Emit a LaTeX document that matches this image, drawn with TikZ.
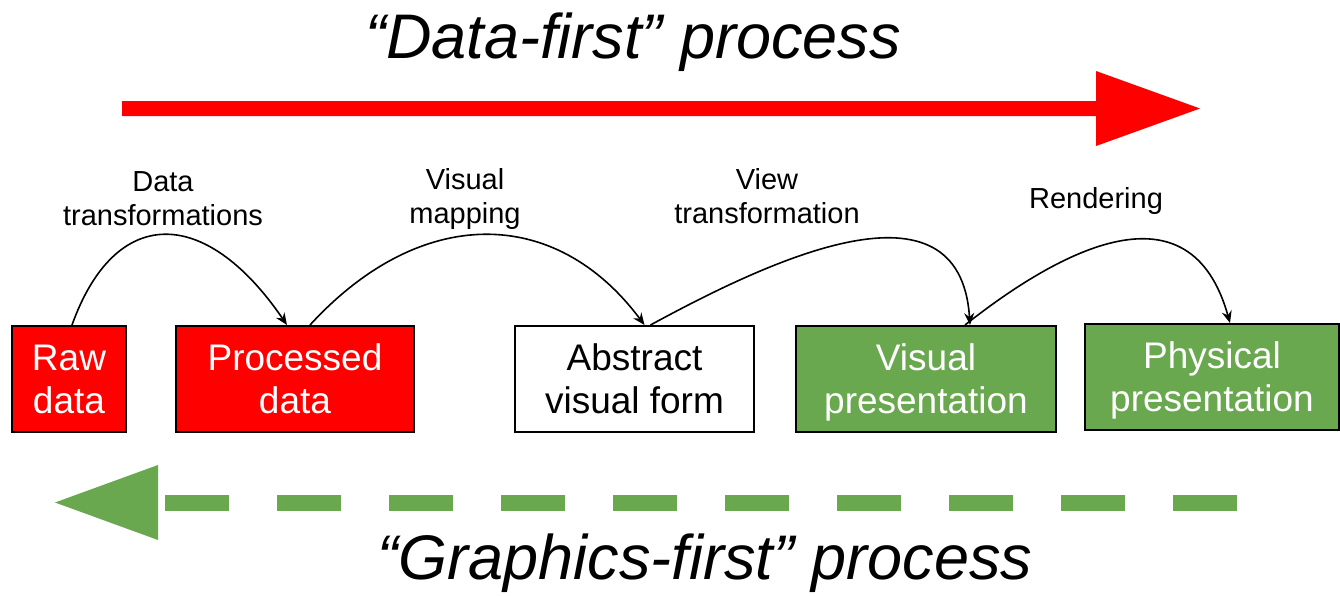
\documentclass[tikz,border=0pt]{standalone}
\usepackage{fontspec}
\setmainfont{Liberation Sans}
\usepackage{tikz}
\usetikzlibrary{arrows.meta}
\definecolor{boxred}{HTML}{FF0000}
\definecolor{boxgreen}{HTML}{6AA84F}

\begin{document}
\begin{tikzpicture}[x=0.5pt,y=-0.5pt,
    box/.style={draw,line width=1pt,minimum height=53pt,inner sep=0pt,align=center,
      font=\fontsize{18.5}{21.5}\selectfont},
    redbox/.style={box,fill=boxred,text=white},
    greenbox/.style={box,fill=boxgreen,text=white},
    lbl/.style={anchor=base,align=center,font=\fontsize{14.5}{17}\selectfont},
    heading/.style={anchor=base,font=\fontsize{31.5}{36}\selectfont\itshape},
    flow/.style={line width=0.8pt,-{Stealth[length=6pt,width=5pt,inset=2pt]}}]
                 \useasboundingbox (0,0) rectangle (1340,595);
                 % top: data-first
                 \node[heading] (datafirst) at (633,58) {“Data-first” process};
                 \fill[boxred] (122,101) -- (1096,101) -- (1096,71) -- (1200,108.5) -- (1096,146) -- (1096,116) -- (122,116) -- cycle;
                 % stages
                 \node[redbox,minimum width=57pt] (raw) at (69,379) {Raw\\data};
                 \node[redbox,minimum width=119pt] (proc) at (295,379) {Processed\\data};
                 \node[box,minimum width=119.5pt] (abstract) at (634.5,379) {Abstract\\visual form};
                 \node[greenbox,minimum width=130pt] (vispres) at (926,379) {Visual\\\smash{presentation}};
                 \node[greenbox,minimum width=127pt] (physpres) at (1212,377) {Physical\\\smash{presentation}};
                 % steps (base = last line)
                 \node[lbl] (datatrans) at (163,225) {Data\\transformations};
                 \node[lbl] (vismap) at (465,223) {Visual\\mapping};
                 \node[lbl] (viewtrans) at (767,223) {View\\transformation};
                 \node[lbl] (render) at (1096,208) {Rendering};
                 \draw[flow] ([xshift=1.5pt]raw.north) .. controls (115,205) and (205,205) .. ([xshift=-4pt]proc.north);
                 \draw[flow] ([xshift=7.5pt]proc.north) .. controls (420,205) and (555,205) .. ([xshift=5pt]abstract.north);
                 \draw[flow] ([xshift=8pt]abstract.north) .. controls (770,260) and (960,170) .. ([xshift=22pt]vispres.north);
                 \draw[flow] ([xshift=19.5pt]vispres.north) .. controls (1060,250) and (1190,180) .. ([xshift=9pt]physpres.north);
                 % bottom: graphics-first
                 \fill[boxgreen] (55,502.5) -- (158,465) -- (158,540) -- cycle;
                 \draw[boxgreen,line width=8pt,dash pattern=on 32pt off 24pt] (165,503) -- (1237,503);
                 \node[heading] (graphicsfirst) at (705,579) {“Graphics-first” process};
               \end{tikzpicture}
\end{document}
